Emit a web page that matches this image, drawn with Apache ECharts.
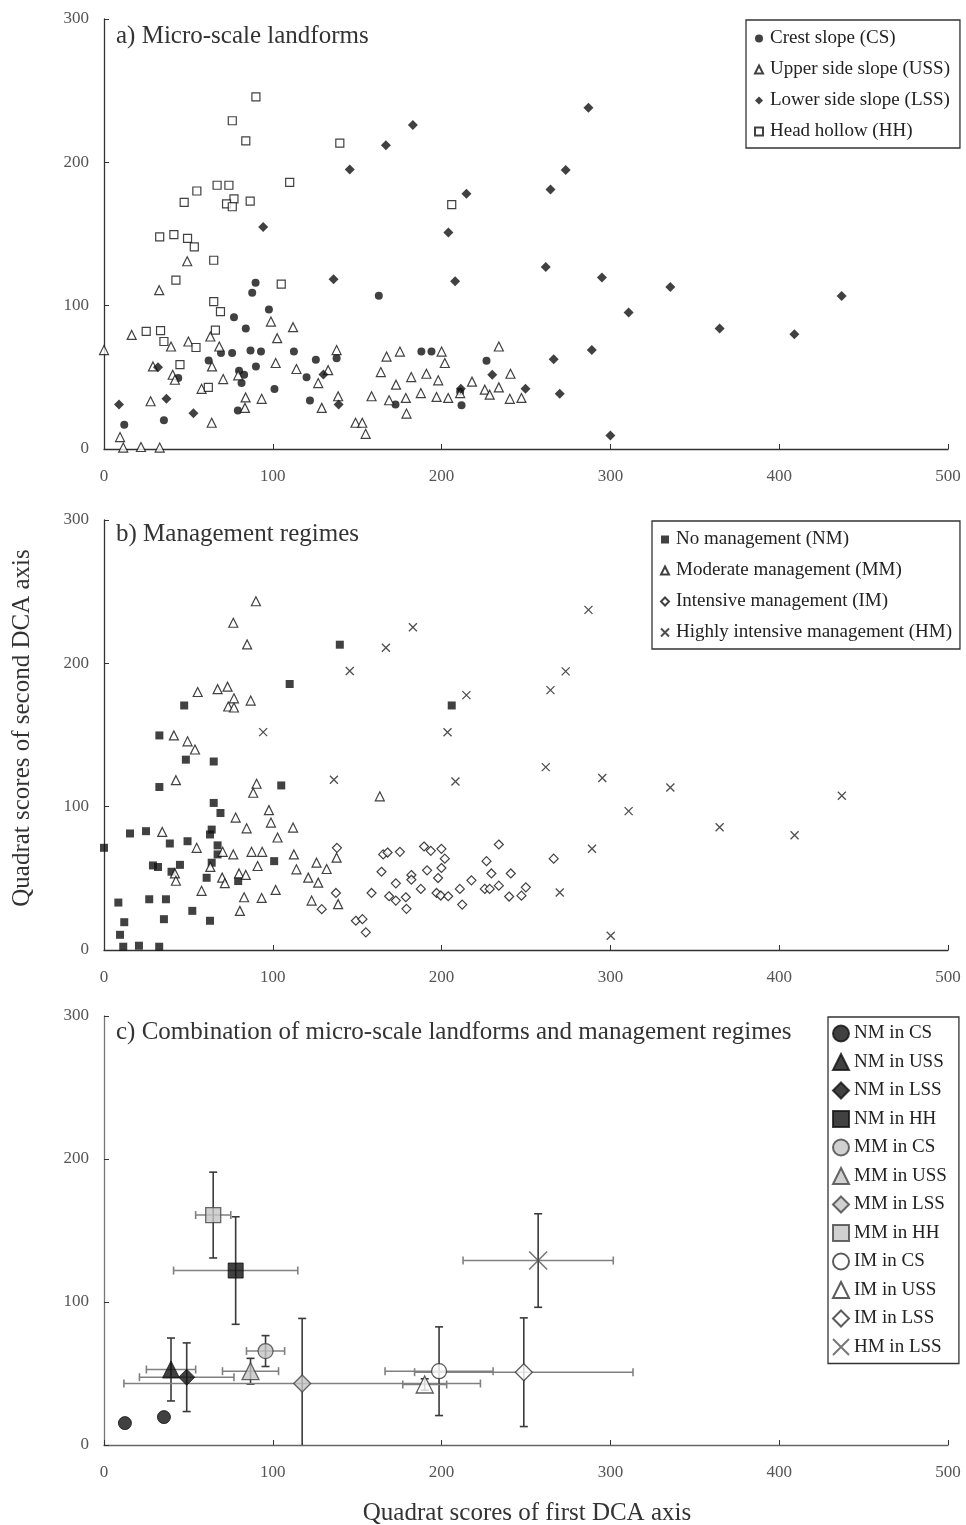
<!DOCTYPE html>
<html>
<head>
<meta charset="utf-8">
<title>DCA quadrat scores</title>
<script src="https://cdn.jsdelivr.net/npm/echarts@6/dist/echarts.min.js"></script>
<style>
  html, body { margin: 0; padding: 0; background: #fff; }
  #chart { width: 966px; height: 1525px; }
</style>
</head>
<body>
<div id="chart"></div>
<script>
// ---- a) micro-scale landforms, [DCA1, DCA2] ----
var crestSlope = [[89.8,116],[87.8,109],[97.7,97.4],[77,91.9],[84,84],[86.8,68.7],[93,68],[75.9,66.9],[69.3,66.9],[62,61.8],[90,57.6],[80,54.6],[83,51.8],[81.5,46],[112.5,68],[101,41.9],[120,50],[125.5,62.2],[122,33.8],[79.3,26.8],[35.5,20],[12,17],[44,49.5],[162.8,107],[137.8,63.4],[188,68],[194,68],[226.6,61.5],[211.8,30.5],[172.7,31],[211,40]];
var upperSideSlope = [[49.3,131],[32.7,110.8],[0,69],[16.4,79.6],[98.9,88.9],[112,85],[102.6,77.3],[63,78.5],[50,75],[39.7,71.5],[68.3,71.5],[29,57.6],[64,57.6],[101.7,60],[114,55.8],[40.7,51.8],[42,48.3],[70.6,48.8],[79.5,51.4],[57.8,42],[83.9,36],[93.4,35],[27.6,33.3],[83.5,28.7],[63.8,18.3],[129,28.7],[126.9,46],[9.5,8.3],[11.4,1],[21.9,1.4],[33,1],[137.8,69],[132.8,55],[138.7,36.8],[167.4,64.5],[175.3,68],[164,53.7],[182,50.2],[173,44.9],[191,52.5],[198,47.9],[200,68],[201.9,60],[158.5,36.8],[168.9,34],[178.8,35.6],[187.7,39],[197,36.3],[203.9,35.6],[179.2,24.7],[149,18.3],[153,18.3],[155,10.6],[218,47],[233.9,71.5],[240.8,52.5],[225.6,41.4],[228.5,37.9],[233.9,43],[240.4,35],[247.3,35.6],[211,39]];
var lowerSideSlope = [[94.3,154.9],[8.9,31],[37,35],[53,25],[32,57],[287,238],[183,226],[167,212],[145.6,195],[273.5,194.6],[264.5,181],[214.7,178],[204,151],[261.7,127],[295,119.6],[208,117],[136,118.5],[289,69],[266.4,62.7],[270,38.6],[230,51.8],[249.7,42],[211.4,42],[300,9.5],[139,31],[130,52],[310.8,95.3],[335.5,113],[364.7,84],[409,80],[437,106.7]];
var headHollow = [[90,245.6],[76,229],[84,215],[110,186],[67,184],[74,184],[55,180],[47.5,172],[77,174.5],[72.6,171],[76,169],[86.6,173],[33,148],[41.4,149.5],[49.5,147],[53.5,141],[65,131.7],[42.6,117.8],[105,115],[65,102.8],[69,95.8],[66,83],[25,82],[33.5,82.6],[35.5,75],[54.5,70.8],[45,58.8],[61.8,43],[139.7,213.4],[206,170.5]];

// ---- b) management regimes ----
var noMgmt = [[110,185.6],[47.5,170.6],[32.8,149.7],[48.5,132.8],[65,131.5],[32.8,113.7],[105,114.8],[65,102.6],[69,95.6],[15.4,81.3],[24.9,82.9],[63.8,84],[62.8,80.6],[39,74.3],[49.5,75.9],[67.3,73],[67.3,66.7],[0,71.3],[29,59],[32,57.9],[45,59.4],[40,54.6],[63.8,60.9],[100.8,62],[79.5,48.1],[60.8,50.4],[26.8,35.4],[36.7,35.4],[8.5,33.1],[52.3,27.3],[35.5,21.5],[62.8,20.4],[12,19.4],[9.5,10.6],[11.4,2.3],[20.7,3],[32.7,2.3],[139.7,213],[206,170.6]];
var moderateMgmt = [[90,243.3],[76.6,228.3],[84.8,213.2],[55.5,180],[67.3,182],[73.2,183.7],[77,175.6],[73.6,169.9],[77,169.2],[86.9,174],[41.4,149.7],[49.5,145.6],[53.9,139.9],[42.6,118.5],[90.4,116],[88.4,109.7],[78,92.4],[97.7,97.6],[98.9,88.9],[84.5,84.9],[112,85.4],[102.8,78.5],[34.5,82.4],[54.9,71.3],[76.6,66.7],[87.4,68.5],[93.7,68.5],[91,58.6],[70.3,68.5],[63,58],[112.5,66.7],[114,56.3],[121,50.5],[125.9,60.9],[126.9,47],[101.7,41.9],[70,50.5],[71.6,46.6],[80,53.4],[84,52.4],[57.8,41.3],[42,53.4],[42.6,48.3],[83,36.8],[93.4,36.3],[123,34.5],[80.5,27.3],[163.4,107.2],[137.8,64.4],[138.7,32],[131.9,56.5]];
var intensiveMgmt = [[138,71.3],[129,28.5],[165.4,66.7],[168,68],[175.3,68.5],[164.4,54.6],[172.9,46.5],[182.1,52.3],[182.1,49],[189.6,72.2],[193.6,69.2],[199.9,70.6],[201.9,63.7],[199.9,57.2],[197.9,50.2],[191.4,55.6],[158.5,39.8],[168.9,37.5],[172.9,34.5],[178.8,36.8],[179.2,28.7],[187.7,42.6],[197,39.8],[199.5,38],[203.9,37.5],[149.2,20.4],[153.1,21.5],[155.1,12.3],[210.8,42.6],[212.2,31.7],[217.7,48.6],[226.6,62],[229.5,53.4],[233.9,73.6],[241,53.4],[225.6,42.6],[228.5,42.6],[233.9,44.9],[240,37.3],[247.3,37.9],[249.9,43.7],[266.4,63.7],[137.4,39.8]];
var highlyIntensiveMgmt = [[287,237.3],[183,225.2],[167,210.9],[145.6,194.7],[273.5,194.4],[264.5,181.3],[214.7,177.8],[203.5,151.9],[261.7,127.6],[295.2,120],[208.2,117.6],[136.2,118.8],[289.1,70.6],[270,40.1],[300.2,9.9],[310.8,96.9],[335.5,113.4],[364.7,85.6],[409.1,80.1],[437.1,107.6],[94.3,152]];

// ---- c) combinations: mean and SD ----
var comboNames = ['NM in CS','NM in USS','NM in LSS','NM in HH','MM in CS','MM in USS','MM in LSS','MM in HH','IM in CS','IM in USS','IM in LSS','HM in LSS'];
var nmInCs = [[12.4,15.3],[35.5,19.5]];   // two quadrats only, no bars
var comboMeanX = [null,39.7,49,78,95.7,86.8,117.4,64.7,198.5,190,248.7,257.2];
var comboMeanY = [null,52.8,47.4,122,65.7,51.6,43,160.8,51.6,42.3,50.9,129];
var comboSdX   = [null,14.6,28,36.8,11.3,16.6,105.6,10.4,32,13,64.7,44.5];
var comboSdY   = [null,22,24,37.6,10.8,9,45.5,30,31,4,38,32.7];

var FONT = '"Liberation Serif", "Times New Roman", serif';
var GRIDS = [{top:19, h:430}, {top:520, h:430}, {top:1016, h:429}];

var chart = echarts.init(document.getElementById('chart'));

function xAx(i) {
  return {
    gridIndex: i, type: 'value', min: 0, max: 500, interval: 100,
    axisLine: {lineStyle: {color: i == 2 ? '#666' : '#333', width: 1.3}},
    axisTick: {inside: true, length: 5, lineStyle: {color: '#333'}},
    axisLabel: {color: '#555', fontSize: 17, fontFamily: FONT, margin: 19},
    splitLine: {show: false}
  };
}
function yAx(i) {
  return {
    gridIndex: i, type: 'value', min: 0, max: 300, interval: 100,
    axisLine: {show: true, lineStyle: {color: i == 2 ? '#777' : '#333', width: 1.3}},
    axisTick: {show: true, inside: true, length: 5, lineStyle: {color: '#333'}},
    axisLabel: {color: '#555', fontSize: 17, fontFamily: FONT, margin: 15},
    splitLine: {show: false}
  };
}

var open = function (c) { return {color: '#fff', borderColor: c || '#111', borderWidth: 1.2}; };
var solid = {color: '#111'};
var CROSS = 'path://M0,0L10,10M0,10L10,0';

function pts(name, idx, data, symbol, size, style) {
  return {name: name, type: 'scatter', xAxisIndex: idx, yAxisIndex: idx, data: data,
    symbol: symbol, symbolSize: size, itemStyle: style, z: 3};
}

// error bars for panel c, drawn through the axis coordinate system
var barData = [];
for (var k = 1; k < comboNames.length; k++) {
  barData.push([comboMeanX[k], comboMeanY[k], comboSdX[k], comboSdY[k]]);
}
function renderBars(params, api) {
  var x = api.value(0), y = api.value(1), sx = api.value(2), sy = api.value(3);
  var c = api.coord([x, y]);
  var l = api.coord([x - sx, y])[0], r = api.coord([x + sx, y])[0];
  var t = api.coord([x, y + sy])[1], b = api.coord([x, y - sy])[1];
  var cap = 4;
  var h = {stroke: '#808080', lineWidth: 1.6};
  var v = {stroke: '#3a3a3a', lineWidth: 1.6};
  return {type: 'group', children: [
    {type: 'line', shape: {x1: l, y1: c[1], x2: r, y2: c[1]}, style: h},
    {type: 'line', shape: {x1: l, y1: c[1] - cap, x2: l, y2: c[1] + cap}, style: h},
    {type: 'line', shape: {x1: r, y1: c[1] - cap, x2: r, y2: c[1] + cap}, style: h},
    {type: 'line', shape: {x1: c[0], y1: t, x2: c[0], y2: b}, style: v},
    {type: 'line', shape: {x1: c[0] - cap, y1: t, x2: c[0] + cap, y2: t}, style: v},
    {type: 'line', shape: {x1: c[0] - cap, y1: b, x2: c[0] + cap, y2: b}, style: v}
  ]};
}
function mean(k) { return [[comboMeanX[k], comboMeanY[k]]]; }

var gray = {color: '#c4c4c4', borderColor: '#444', borderWidth: 1.3};
var white = {color: '#fff', borderColor: '#333', borderWidth: 1.3};
var black = {color: '#111', borderColor: '#111', borderWidth: 1};

var series = [
  pts('Crest slope (CS)', 0, crestSlope, 'circle', 8, solid),
  pts('Upper side slope (USS)', 0, upperSideSlope, 'triangle', 9, open()),
  pts('Lower side slope (LSS)', 0, lowerSideSlope, 'diamond', 10, solid),
  pts('Head hollow (HH)', 0, headHollow, 'rect', 8, open()),

  pts('No management (NM)', 1, noMgmt, 'rect', 8, solid),
  pts('Moderate management (MM)', 1, moderateMgmt, 'triangle', 9, open()),
  pts('Intensive management (IM)', 1, intensiveMgmt, 'diamond', 9, open()),
  pts('Highly intensive management (HM)', 1, highlyIntensiveMgmt, CROSS, 8,
      {color: 'rgba(0,0,0,0)', borderColor: '#222', borderWidth: 1.3}),

  {type: 'custom', xAxisIndex: 2, yAxisIndex: 2, data: barData, renderItem: renderBars,
   encode: {x: 0, y: 1}, clip: true, z: 1, silent: true},

  pts('NM in CS', 2, nmInCs, 'circle', 13, black),
  pts('NM in USS', 2, mean(1), 'triangle', 17, black),
  pts('NM in LSS', 2, mean(2), 'diamond', 16, black),
  pts('NM in HH', 2, mean(3), 'rect', 15, black),
  pts('MM in CS', 2, mean(4), 'circle', 15, gray),
  pts('MM in USS', 2, mean(5), 'triangle', 17, gray),
  pts('MM in LSS', 2, mean(6), 'diamond', 17, gray),
  pts('MM in HH', 2, mean(7), 'rect', 15, gray),
  pts('IM in CS', 2, mean(8), 'circle', 15, white),
  pts('IM in USS', 2, mean(9), 'triangle', 17, white),
  pts('IM in LSS', 2, mean(10), 'diamond', 17, white),
  pts('HM in LSS', 2, mean(11), CROSS, 18, {color: 'rgba(0,0,0,0)', borderColor: '#555', borderWidth: 1.6})
];

function legendBox(names, left, top, size, gap, fontSize, textPad, pad) {
  return {
    data: names, orient: 'vertical', left: left, top: top,
    itemWidth: size, itemHeight: size, itemGap: gap, padding: pad,
    borderColor: '#333', borderWidth: 1.3, backgroundColor: '#fff', borderRadius: 0,
    selectedMode: false,
    textStyle: {fontFamily: FONT, fontSize: fontSize, color: '#222', padding: [0, 0, 0, textPad]}
  };
}

chart.setOption({
  animation: false,
  backgroundColor: '#fff',
  textStyle: {fontFamily: FONT},
  grid: GRIDS.map(function (g) { return {left: 104, width: 844, top: g.top, height: g.h}; }),
  xAxis: [xAx(0), xAx(1), xAx(2)],
  yAxis: [yAx(0), yAx(1), yAx(2)],
  title: [
    {text: 'a) Micro-scale landforms', left: 116, top: 24},
    {text: 'b) Management regimes', left: 116, top: 522},
    {text: 'c) Combination of micro-scale landforms and management regimes', left: 116, top: 1020}
  ].map(function (t) {
    t.padding = 0;
    t.textStyle = {fontFamily: FONT, fontSize: 25, fontWeight: 'normal', color: '#333'};
    return t;
  }),
  legend: [
    legendBox(['Crest slope (CS)', 'Upper side slope (USS)', 'Lower side slope (LSS)', 'Head hollow (HH)'],
              746, 20, 8, 12, 19, 2, [9, 10, 7, 8]),
    legendBox(['No management (NM)', 'Moderate management (MM)', 'Intensive management (IM)', 'Highly intensive management (HM)'],
              652, 521, 8, 12, 19, 2, [9, 8, 7, 8]),
    legendBox(comboNames, 828, 1017, 16, 9.5, 19, 0, [7, 12, 7, 4])
  ],
  graphic: [
    {type: 'text', x: 22, y: 728, rotation: Math.PI / 2,
     style: {text: 'Quadrat scores of second DCA axis', font: '25px ' + FONT, fill: '#333',
             textAlign: 'center', textVerticalAlign: 'middle'}},
    {type: 'text', x: 527, y: 1513,
     style: {text: 'Quadrat scores of first DCA axis', font: '25px ' + FONT, fill: '#333',
             textAlign: 'center', textVerticalAlign: 'middle'}}
  ],
  series: series
});
</script>
</body>
</html>
